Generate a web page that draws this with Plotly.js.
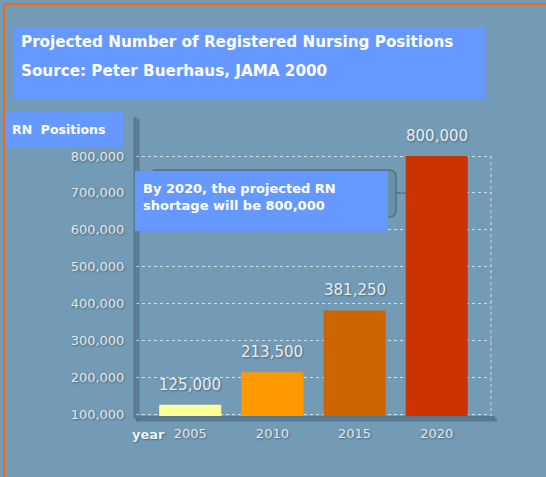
<!DOCTYPE html>
<html>
<head>
<meta charset="utf-8">
<script src="https://cdn.plot.ly/plotly-3.0.1.min.js"></script>
<style>
html,body{margin:0;padding:0;background:#739bb5;overflow:hidden;}
#wrap{position:relative;width:546px;height:477px;overflow:hidden;}
#chart{width:546px;height:477px;}
#btop{position:absolute;left:3px;top:3px;width:543px;height:2px;background:#f06a14;}
#bleft{position:absolute;left:3px;top:3px;width:2px;height:474px;background:#f06a14;}
</style>
</head>
<body>
<div id="wrap">
<div id="chart"></div>
<div id="btop"></div>
<div id="bleft"></div>
</div>
<script>
// ---- data ----
var years = ['2005', '2010', '2015', '2020'];
var positions = [125000, 213500, 381250, 800000];
var barColors = ['#ffff99', '#ff9900', '#cc6600', '#cc3300'];
var yTickVals = [100000, 200000, 300000, 400000, 500000, 600000, 700000, 800000];
var titleLine1 = 'Projected Number of Registered Nursing Positions';
var titleLine2 = 'Source: Peter Buerhaus, JAMA 2000';
var yAxisLabel = 'RN  Positions';
var xAxisLabel = 'year';
var noteText = 'By 2020, the projected RN<br>shortage will be 800,000';

// ---- layout geometry ----
var W = 546, H = 477;
var M = {l: 136, r: 55, t: 117, b: 60};
var PW = W - M.l - M.r, PH = H - M.t - M.b;
function px(x) { return (x - M.l) / PW; }
function py(y) { return (H - M.b - y) / PH; }

var BG = '#739bb5';
var BOX = '#6699ff';
var FONT = 'DejaVu Sans, Verdana, sans-serif';
var shadow = '1px 1px 2px rgba(0,0,0,0.35)';

function rect(x0, y0, x1, y1, fill) {
  return {type: 'rect', xref: 'paper', yref: 'paper', x0: px(x0), x1: px(x1), y0: py(y1), y1: py(y0),
          fillcolor: fill, line: {color: 'rgba(0,0,0,0)', width: 0}, layer: 'above'};
}

function roundRectPath(x0, y0, x1, y1, r) {
  var rx = r / PW, ry = r / PH;
  var X0 = px(x0), X1 = px(x1), Y0 = py(y1), Y1 = py(y0);
  return 'M' + (X0 + rx) + ',' + Y1 + ' L' + (X1 - rx) + ',' + Y1 +
    ' Q' + X1 + ',' + Y1 + ' ' + X1 + ',' + (Y1 - ry) +
    ' L' + X1 + ',' + (Y0 + ry) + ' Q' + X1 + ',' + Y0 + ' ' + (X1 - rx) + ',' + Y0 +
    ' L' + (X0 + rx) + ',' + Y0 + ' Q' + X0 + ',' + Y0 + ' ' + X0 + ',' + (Y0 + ry) +
    ' L' + X0 + ',' + (Y1 - ry) + ' Q' + X0 + ',' + Y1 + ' ' + (X0 + rx) + ',' + Y1 + ' Z';
}

var trace = {
  type: 'bar',
  x: years,
  y: positions,
  marker: {color: barColors, line: {width: 0}},
  width: 0.755,
  hoverinfo: 'skip'
};

var shapes = [
  // axis shadows
  {type: 'line', xref: 'paper', yref: 'paper', x0: px(138), x1: px(138), y0: py(420), y1: py(119),
   line: {color: 'rgba(40,60,75,0.35)', width: 3}, layer: 'below'},
  {type: 'line', xref: 'paper', yref: 'paper', x0: px(136), x1: px(497), y0: py(420), y1: py(420),
   line: {color: 'rgba(40,60,75,0.35)', width: 3}, layer: 'below'},
  // y axis line
  {type: 'line', xref: 'paper', yref: 'paper', x0: px(135), x1: px(135), y0: py(419), y1: py(117),
   line: {color: '#557a90', width: 3}, layer: 'above'},
  // x axis line
  {type: 'line', xref: 'paper', yref: 'paper', x0: px(134), x1: px(495), y0: py(417.5), y1: py(417.5),
   line: {color: '#557a90', width: 3}, layer: 'above'},
  // right dotted frame line
  {type: 'line', xref: 'paper', yref: 'y', x0: 1, x1: 1, y0: yTickVals[yTickVals.length - 1], y1: 92000,
   line: {color: 'rgba(225,233,240,0.85)', width: 1, dash: 'dot'}, layer: 'below'},
  // title box
  rect(14, 27, 485, 99, BOX),
  // RN positions box
  rect(3, 111, 123, 147, BOX),
  // bracket behind note
  {type: 'path', xref: 'paper', yref: 'paper', path: roundRectPath(150, 170, 396, 217, 7),
   fillcolor: '#6a8fa8', line: {color: '#4e7186', width: 1.5}, layer: 'above'},
  {type: 'line', xref: 'paper', yref: 'paper', x0: px(396), x1: px(406), y0: py(193), y1: py(193),
   line: {color: '#4e7186', width: 1.5}, layer: 'above'},
  // note box
  rect(135, 171, 388, 231, BOX)
];

function ann(text, x, y, size, color, sh) {
  var f = {family: FONT, color: color || '#ffffff', size: size};
  if (sh) f.shadow = sh;
  return {text: text, xref: 'paper', yref: 'paper', x: px(x), y: py(y), xanchor: 'left', yanchor: 'middle',
          showarrow: false, align: 'left', font: f};
}

var annotations = [
  ann('<b>' + titleLine1 + '</b>', 19, 42, 15.2),
  ann('<b>' + titleLine2 + '</b>', 19, 71, 15.2),
  ann('<b>' + yAxisLabel + '</b>', 10, 129, 12.5),
  ann('<b>' + noteText + '</b>', 141, 197, 13),
  ann('<b>' + xAxisLabel + '</b>', 130, 434, 13, '#eef3f6', shadow)
];

// value labels above the bars
for (var i = 0; i < years.length; i++) {
  annotations.push({
    text: String(positions[i]).replace(/\B(?=(\d{3})+(?!\d))/g, ','),
    x: i, y: positions[i], xref: 'x', yref: 'y',
    xanchor: 'center', yanchor: 'bottom', yshift: 9, showarrow: false,
    font: {family: FONT, size: 15, color: '#e8eef2', shadow: shadow}
  });
}

var layout = {
  width: W, height: H,
  margin: M,
  paper_bgcolor: BG,
  plot_bgcolor: BG,
  showlegend: false,
  xaxis: {
    type: 'category',
    range: [-0.66, 3.66],
    showgrid: false,
    zeroline: false,
    showline: false,
    ticks: 'outside', ticklen: 4, tickcolor: 'rgba(0,0,0,0)',
    tickfont: {family: FONT, size: 13, color: '#e2e8ec', shadow: shadow},
    fixedrange: true
  },
  yaxis: {
    range: [92000, 906000],
    tickvals: yTickVals,
    tickformat: ',d',
    showgrid: true,
    gridcolor: 'rgba(225,233,240,0.85)',
    griddash: 'dot',
    gridwidth: 1,
    zeroline: false,
    showline: false,
    ticks: 'outside', ticklen: 8, tickcolor: 'rgba(0,0,0,0)',
    tickfont: {family: FONT, size: 13, color: '#e2e8ec', shadow: shadow},
    fixedrange: true
  },
  shapes: shapes,
  annotations: annotations
};

Plotly.newPlot('chart', [trace], layout, {displayModeBar: false, staticPlot: true});
</script>
</body>
</html>
